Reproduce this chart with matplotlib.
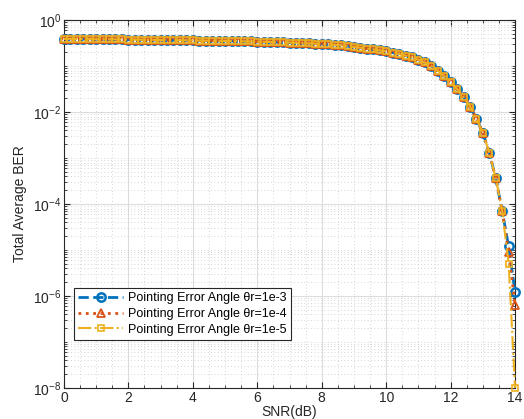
import numpy as np
import matplotlib
matplotlib.use("Agg")
import matplotlib.pyplot as plt
from matplotlib.ticker import LogLocator, MultipleLocator, NullFormatter

plt.rcParams['font.family'] = ['Liberation Sans', 'DejaVu Sans']
plt.rcParams['mathtext.default'] = 'regular'

# SNR axis, 0:0.2:14
snr = np.round(np.arange(0, 14.0001, 0.2), 1)

# common part of the curves (0 .. 13.6 dB)
ber_common = [0.392, 0.391, 0.389, 0.388, 0.386, 0.385, 0.384, 0.382, 0.381, 0.379,
              0.378, 0.376, 0.375, 0.373, 0.372, 0.370, 0.368, 0.367, 0.365, 0.364,
              0.362, 0.360, 0.358, 0.356, 0.354, 0.352, 0.350, 0.348, 0.345, 0.343,
              0.340, 0.337, 0.334, 0.331, 0.328, 0.325, 0.321, 0.317, 0.313, 0.309,
              0.304, 0.297, 0.289, 0.281, 0.271, 0.261, 0.251, 0.241, 0.231, 0.220,
              0.209, 0.196, 0.183, 0.169, 0.154, 0.138, 0.120, 0.100, 0.0794, 0.0603,
              0.0447, 0.0316, 0.0214, 0.0132, 0.00724, 0.00347, 0.00132, 3.6e-4, 7.1e-5]

# last two points (13.8, 14 dB) differ per pointing error angle
tail_1e3 = [1.2e-5, 1.2e-6]
tail_1e4 = [8.9e-6, 6.3e-7]
tail_1e5 = [5.0e-6, 1e-8]

ber_1e3 = ber_common + tail_1e3
ber_1e4 = ber_common + tail_1e4
ber_1e5 = ber_common + tail_1e5

labels = ['Pointing Error Angle θr=1e-3',
          'Pointing Error Angle θr=1e-4',
          'Pointing Error Angle θr=1e-5']

fig = plt.figure(figsize=(5.24, 4.19), dpi=100)
ax = fig.add_axes([0.122, 0.074, 0.861, 0.878])

ax.semilogy(snr, ber_1e3, '--o', color='#0072BD', lw=2, ms=6, mew=1.8,
            mfc='none', label=labels[0], clip_on=False, zorder=3)
ax.semilogy(snr, ber_1e4, ':^', color='#D95319', lw=2, ms=6, mew=1.3,
            mfc='none', label=labels[1], clip_on=False, zorder=4)
ax.semilogy(snr, ber_1e5, '-.s', color='#EDB120', lw=1.5, ms=5, mew=1.2,
            mfc='none', label=labels[2], clip_on=False, zorder=5)

ax.set_xlim(0, 14)
ax.set_ylim(1e-8, 1)
ax.set_xticks(np.arange(0, 15, 2))
ax.xaxis.set_minor_locator(MultipleLocator(0.5))
ax.set_yticks([1e0, 1e-2, 1e-4, 1e-6, 1e-8])
ax.yaxis.set_minor_locator(LogLocator(base=10, subs=np.arange(1, 10), numticks=20))
ax.yaxis.set_minor_formatter(NullFormatter())

ax.grid(True, which='major', color='#dcdcdc', lw=0.8)
ax.grid(True, which='minor', color='#c8c8c8', lw=0.6, ls=(0, (1, 3)))
ax.set_axisbelow(True)

ax.tick_params(which='both', direction='in', top=True, right=True,
               labelsize=10, colors='#262626', pad=2)
ax.tick_params(which='major', length=4)
ax.tick_params(which='minor', length=2)
for s in ax.spines.values():
    s.set_color('#262626')
    s.set_linewidth(0.8)

ax.set_xlabel('SNR(dB)', fontsize=10, color='#262626', labelpad=0)
ax.set_ylabel('Total Average BER', fontsize=10, color='#262626', labelpad=4)

leg = ax.legend(loc='lower left', bbox_to_anchor=(0.022, 0.13), fontsize=9,
                handlelength=3.6, borderaxespad=0, fancybox=False,
                framealpha=1, edgecolor='#262626', borderpad=0.35,
                labelspacing=0.3, handletextpad=0.4)
leg.get_frame().set_linewidth(0.8)

fig.savefig('out.png', dpi=100)
